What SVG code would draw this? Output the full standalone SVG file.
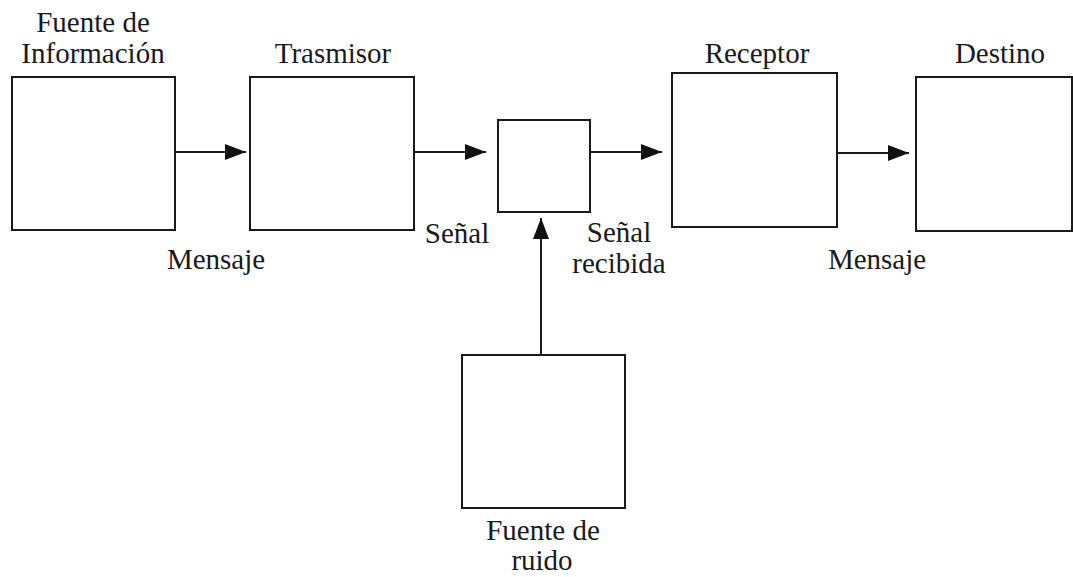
<svg xmlns="http://www.w3.org/2000/svg" width="1073" height="577" viewBox="0 0 1073 577">
<style>
.box{fill:#fff;stroke:#1a1a1a;stroke-width:2}
.ln{stroke:#1a1a1a;stroke-width:2;fill:none}
text{font-family:"Liberation Serif","DejaVu Serif",serif;font-size:29px;fill:#1a1a1a;text-anchor:middle}
</style>
<defs>
<marker id="ah" markerUnits="userSpaceOnUse" markerWidth="22" markerHeight="18" refX="21" refY="8" orient="auto">
<path d="M0,0 L21,8 L0,16 Z" fill="#111"/>
</marker>
</defs>
<rect width="1073" height="577" fill="#fff"/>
<g id="fuente-informacion">
<rect class="box" x="12" y="77" width="163" height="153"/>
<text x="93" y="32">Fuente de</text>
<text x="93" y="63">Información</text>
</g>
<g id="trasmisor">
<rect class="box" x="250" y="77" width="164" height="153"/>
<text x="333" y="63">Trasmisor</text>
</g>
<g id="canal">
<rect class="box" x="498" y="120" width="92" height="92"/>
</g>
<g id="receptor">
<rect class="box" x="672" y="73" width="165" height="154"/>
<text x="757" y="63">Receptor</text>
</g>
<g id="destino">
<rect class="box" x="916" y="77" width="156" height="154"/>
<text x="1000" y="63">Destino</text>
</g>
<g id="fuente-ruido">
<rect class="box" x="462" y="355" width="163" height="153"/>
<text x="543" y="540">Fuente de</text>
<text x="542" y="570">ruido</text>
</g>
<g id="connectors">
<line class="ln" x1="175" y1="152" x2="246" y2="152" marker-end="url(#ah)"/>
<line class="ln" x1="414" y1="152" x2="486" y2="152" marker-end="url(#ah)"/>
<line class="ln" x1="590" y1="152" x2="662" y2="152" marker-end="url(#ah)"/>
<line class="ln" x1="837" y1="153" x2="909" y2="153" marker-end="url(#ah)"/>
<line class="ln" x1="541" y1="355" x2="541" y2="218" marker-end="url(#ah)"/>
</g>
<g id="labels">
<text x="216" y="269">Mensaje</text>
<text x="457" y="243">Señal</text>
<text x="619" y="242">Señal</text>
<text x="619" y="273">recibida</text>
<text x="877" y="269">Mensaje</text>
</g>
</svg>
